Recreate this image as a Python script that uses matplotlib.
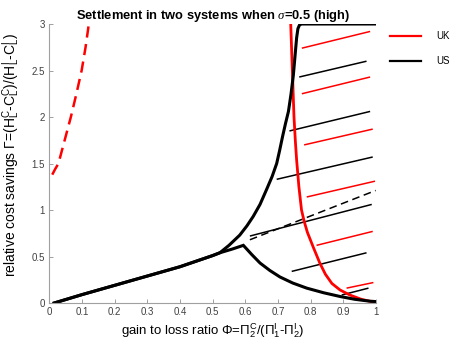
import matplotlib.pyplot as plt
import numpy as np

plt.rcParams['font.family'] = 'Liberation Sans'
plt.rcParams['mathtext.fontset'] = 'custom'
plt.rcParams['mathtext.rm'] = 'Liberation Sans'
plt.rcParams['mathtext.it'] = 'Liberation Serif:italic'
plt.rcParams['mathtext.bf'] = 'Liberation Sans:bold'

# threshold where UK settlement starts (dashed red)
uk_thr_x = [0.009, 0.018, 0.028, 0.047, 0.066, 0.083, 0.099, 0.111, 0.121]
uk_thr_y = [1.38, 1.44, 1.5, 1.75, 2.0, 2.25, 2.5, 2.75, 3.0]

# common lower part of the US boundary
us_base_x = [0.015, 0.1, 0.2, 0.3, 0.4, 0.5, 0.522]
us_base_y = [0.0, 0.09, 0.19, 0.29, 0.39, 0.51, 0.54]

# US upper branch
us_up_x = [0.55, 0.583, 0.605, 0.624, 0.645, 0.665, 0.682, 0.696, 0.705, 0.714,
           0.723, 0.732, 0.740, 0.747, 0.752, 0.757, 0.761, 0.766, 0.772, 1.0]
us_up_y = [0.62, 0.73, 0.83, 0.93, 1.06, 1.22, 1.36, 1.50, 1.64, 1.79,
           1.93, 2.06, 2.25, 2.45, 2.65, 2.85, 2.95, 2.99, 3.0, 3.0]

# US lower branch
us_low_x = [0.56, 0.594, 0.62, 0.645, 0.675, 0.706, 0.745, 0.788, 0.84, 0.89, 0.935, 0.98, 1.0]
us_low_y = [0.58, 0.62, 0.52, 0.43, 0.35, 0.28, 0.215, 0.16, 0.11, 0.07, 0.04, 0.02, 0.015]

# UK boundary
uk_x = [0.739, 0.744, 0.749, 0.753, 0.757, 0.764, 0.772, 0.78, 0.79, 0.808,
        0.828, 0.845, 0.865, 0.89, 0.92, 0.955, 0.992]
uk_y = [3.0, 2.5, 2.0, 1.75, 1.54, 1.25, 1.0, 0.88, 0.76, 0.6,
        0.43, 0.31, 0.21, 0.14, 0.086, 0.04, 0.01]

# dashed US line
us_dash_x = [0.614, 0.999]
us_dash_y = [0.68, 1.21]

# shading segments: (x0, y0, x1, y1, system)
hatch = [
    (0.773, 2.74, 0.982, 2.92, 'UK'),
    (0.765, 2.43, 0.971, 2.60, 'US'),
    (0.773, 2.25, 0.982, 2.43, 'UK'),
    (0.735, 1.85, 0.982, 2.06, 'US'),
    (0.780, 1.70, 0.990, 1.87, 'UK'),
    (0.696, 1.33, 0.990, 1.57, 'US'),
    (0.788, 1.14, 0.997, 1.31, 'UK'),
    (0.614, 0.72, 0.987, 1.06, 'US'),
    (0.818, 0.62, 0.990, 0.77, 'UK'),
    (0.742, 0.34, 0.971, 0.54, 'US'),
    (0.910, 0.16, 0.992, 0.22, 'UK'),
    (0.895, 0.086, 0.977, 0.16, 'US'),
]
colors = {'UK': '#ff0000', 'US': 'black'}

fig = plt.figure(figsize=(4.51, 3.40), dpi=100)
ax = fig.add_axes([0.1093, 0.1088, 0.7244, 0.8206])

for x0, y0, x1, y1, s in hatch:
    ax.plot([x0, x1], [y0, y1], color=colors[s], lw=1.1, solid_capstyle='butt')

ax.plot(us_dash_x, us_dash_y, color='black', lw=1.1, dashes=(5, 3))
ax.plot(uk_thr_x, uk_thr_y, color='#ff0000', lw=1.8, dashes=(4.5, 2.6))

uk_line, = ax.plot(uk_x, uk_y, color='#ff0000', lw=2.0, label='UK',
                   solid_joinstyle='round')
us_line, = ax.plot(us_base_x + us_up_x, us_base_y + us_up_y, color='black', lw=2.2,
                   label='US', solid_joinstyle='round')
ax.plot(us_base_x + us_low_x, us_base_y + us_low_y, color='black', lw=2.2,
        solid_joinstyle='miter')

ax.set_xlim(0, 1)
ax.set_ylim(0, 3)
ax.set_xticks(np.arange(0, 1.01, 0.1))
ax.set_xticklabels(['0', '0.1', '0.2', '0.3', '0.4', '0.5', '0.6', '0.7', '0.8', '0.9', '1'])
ax.set_yticks([0, 0.5, 1, 1.5, 2, 2.5, 3])
ax.set_yticklabels(['0', '0.5', '1', '1.5', '2', '2.5', '3'])
for side in ['top', 'right']:
    ax.spines[side].set_visible(False)
for side in ['left', 'bottom']:
    ax.spines[side].set_color('#a0a0a0')
    ax.spines[side].set_linewidth(0.8)
ax.tick_params(direction='in', length=3, width=0.7, color='#a0a0a0',
               labelsize=7, labelcolor='#404040', pad=3)

ax.set_title(r'Settlement in two systems when $\sigma$=0.5 (high)',
             fontsize=9.3, fontweight='bold', pad=3)
ax.set_xlabel(r'gain to loss ratio $\Phi$=$\Pi_2^\mathrm{C}$/($\Pi_1^\mathrm{I}$-$\Pi_2^\mathrm{I}$)',
              fontsize=9.5, labelpad=3.5)
ax.set_ylabel(r'relative cost savings $\Gamma$=(H$_\mathrm{L}^\mathrm{C}$-C$_\mathrm{L}^\mathrm{C}$)/(H$_\mathrm{L}^\mathrm{I}$-C$_\mathrm{L}^\mathrm{I}$)',
              fontsize=10)
ax.yaxis.set_label_coords(-0.084, 0.53)

leg = ax.legend(handles=[uk_line, us_line], loc='upper left',
                bbox_to_anchor=(1.043, 0.974), frameon=False, fontsize=7,
                borderpad=0, borderaxespad=0, handlelength=3.2,
                handletextpad=1.6, labelspacing=1.52)
for h in leg.get_lines():
    h.set_linewidth(1.6)

fig.savefig('out.png', dpi=100)
